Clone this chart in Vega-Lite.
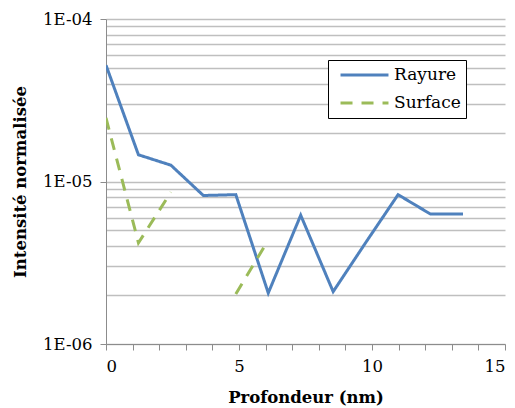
{
  "$schema": "https://vega.github.io/schema/vega-lite/v6.json",
  "width": 399,
  "height": 325,
  "autosize": "none",
  "padding": {"left": 106, "top": 19, "right": 10, "bottom": 64},
  "background": "white",
  "config": {
    "view": {"stroke": null},
    "font": "DejaVu Serif",
    "axis": {"labelFont": "DejaVu Serif", "titleFont": "DejaVu Serif", "labelColor": "black", "titleColor": "black", "domainColor": "#8c8c8c", "tickColor": "#8c8c8c"}
  },
  "data": {
    "values": [
      {"x": 0, "y": 5.2e-5, "serie": "Rayure"},
      {"x": 1.22, "y": 1.46e-5, "serie": "Rayure"},
      {"x": 2.44, "y": 1.26e-5, "serie": "Rayure"},
      {"x": 3.66, "y": 8.2e-6, "serie": "Rayure"},
      {"x": 4.88, "y": 8.3e-6, "serie": "Rayure"},
      {"x": 6.1, "y": 2.06e-6, "serie": "Rayure"},
      {"x": 7.32, "y": 6.2e-6, "serie": "Rayure"},
      {"x": 8.54, "y": 2.1e-6, "serie": "Rayure"},
      {"x": 9.76, "y": 4.2e-6, "serie": "Rayure"},
      {"x": 10.98, "y": 8.3e-6, "serie": "Rayure"},
      {"x": 12.2, "y": 6.3e-6, "serie": "Rayure"},
      {"x": 13.42, "y": 6.3e-6, "serie": "Rayure"},
      {"x": 0, "y": 2.46e-5, "serie": "Surface"},
      {"x": 1.22, "y": 4.19e-6, "serie": "Surface"},
      {"x": 2.44, "y": 8.6e-6, "serie": "Surface"},
      {"x": 3.66, "y": null, "serie": "Surface"},
      {"x": 4.88, "y": 2.03e-6, "serie": "Surface"},
      {"x": 6.1, "y": 4.36e-6, "serie": "Surface"}
    ]
  },
  "mark": {"type": "line", "strokeWidth": 3, "invalid": "break-paths-show-domains", "clip": true},
  "encoding": {
    "x": {
      "field": "x", "type": "quantitative",
      "scale": {"domain": [0, 15], "nice": false, "zero": false},
      "axis": {
        "title": "Profondeur (nm)",
        "titleFontSize": 16.5, "titleFontWeight": "bold", "titlePadding": 15,
        "values": [0,1,2,3,4,5,6,7,8,9,10,11,12,13,14,15],
        "labelExpr": "datum.value % 5 === 0 ? datum.value : ''",
        "labelFontSize": 16.5, "labelPadding": 8, "tickSize": 6, "grid": false
      }
    },
    "y": {
      "field": "y", "type": "quantitative",
      "scale": {"type": "log", "domain": [1e-6, 1e-4], "nice": false},
      "axis": {
        "title": "Intensité normalisée",
        "titleFontSize": 16.5, "titleFontWeight": "bold", "titlePadding": 14,
        "values": [1e-6, 2e-6, 3e-6, 4e-6, 5e-6, 6e-6, 7e-6, 8e-6, 9e-6, 1e-5, 2e-5, 3e-5, 4e-5, 5e-5, 6e-5, 7e-5, 8e-5, 9e-5, 1e-4],
        "labelExpr": "abs(log(datum.value)/LN10 - round(log(datum.value)/LN10)) < 0.01 ? '1E-0' + abs(round(log(datum.value)/LN10)) : ''",
        "labelFontSize": 16.5, "labelPadding": 8, "tickSize": 6,
        "tickColor": {"condition": {"test": "abs(log(datum.value)/LN10 - round(log(datum.value)/LN10)) < 0.01", "value": "#8c8c8c"}, "value": "transparent"},
        "grid": true, "gridColor": "#bfbfbf", "gridWidth": 1.3
      }
    },
    "color": {
      "field": "serie", "type": "nominal",
      "scale": {"domain": ["Rayure", "Surface"], "range": ["#4F81BD", "#9BBB59"]},
      "legend": {
        "title": null, "orient": "none", "legendX": 222, "legendY": 41,
        "strokeColor": "black", "fillColor": "white", "padding": 5,
        "symbolType": "stroke", "symbolSize": 2300, "symbolStrokeWidth": 3,
        "symbolOffset": 6,
        "labelFontSize": 17, "labelFont": "DejaVu Serif", "labelColor": "black",
        "clipHeight": 20, "rowPadding": 8
      }
    },
    "strokeDash": {
      "field": "serie", "type": "nominal",
      "scale": {"domain": ["Rayure", "Surface"], "range": [[1, 0], [12, 9]]},
      "legend": null
    }
  }
}
